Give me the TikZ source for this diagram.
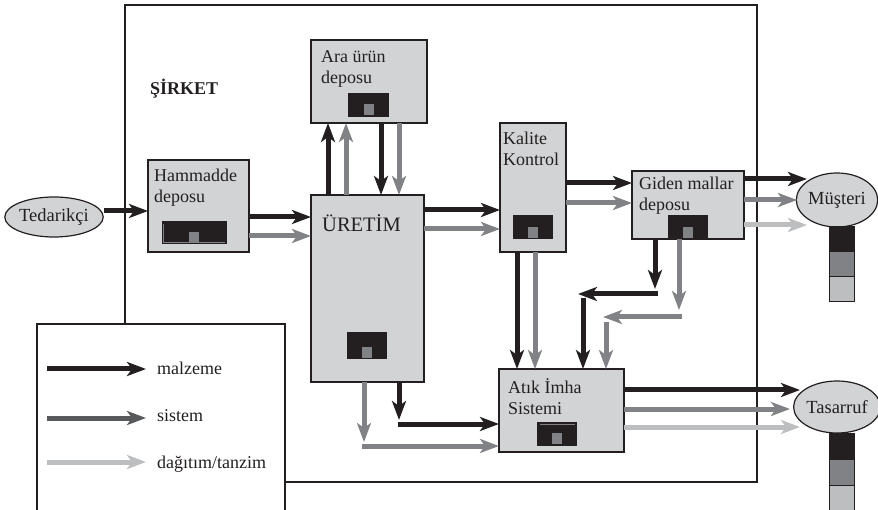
\documentclass[tikz,border=0pt]{standalone}
\usepackage{fontspec}
\setmainfont{Liberation Serif}
\usetikzlibrary{arrows.meta,shapes.geometric}
\definecolor{cblk}{HTML}{231F20}
\definecolor{cgry}{HTML}{808285}
\definecolor{cdgy}{HTML}{58595B}
\definecolor{clgy}{HTML}{BCBEC0}
\definecolor{cfill}{HTML}{D1D3D4}
\begin{document}
\begin{tikzpicture}[x=1pt,y=-1pt,
  box/.style={draw=cblk, line width=1.3pt, fill=cfill, anchor=north west, inner sep=0pt, outer sep=0pt},
  scr/.style={fill=cblk, anchor=north west, inner sep=0pt, outer sep=0pt},
  sq/.style={fill=cgry, anchor=north west, inner sep=0pt, outer sep=0pt, minimum width=10pt, minimum height=11pt},
  oval/.style={ellipse, draw=cblk, line width=1.2pt, fill=cfill, inner sep=0pt, font=\fontsize{18.5}{21}\selectfont, text=cblk},
  flow/.style={line width=5pt, -{Stealth[length=19pt,width=14pt,inset=5pt]}},
  fb/.style={flow, color=cblk},
  fg/.style={flow, color=cgry},
  fl/.style={flow, color=clgy},
  fd/.style={flow, color=cdgy},
  lab/.style={anchor=base west, inner sep=0pt, font=\fontsize{18}{21}\selectfont, text=cblk, align=left},
  frame/.style={draw=cblk, line width=1.1pt},
]
\useasboundingbox (0,0) rectangle (878,510);

% company frame and legend
\draw[frame] (125,324) -- (125,5) -- (757,5) -- (757,482) -- (285,482);
\draw[frame] (37,512) -- (37,324) -- (285,324) -- (285,512);
\node[lab, font=\bfseries\fontsize{18}{21}\selectfont] (sirket) at (150,95) {ŞİRKET};

% boxes
\node[box, minimum width=116pt, minimum height=83pt] (ara) at (311,40) {};
\node[box, minimum width=101pt, minimum height=92pt] (ham) at (148,160) {};
\node[box, minimum width=113pt, minimum height=187pt] (ure) at (311,195) {};
\node[box, minimum width=66pt, minimum height=129pt] (kal) at (500,123) {};
\node[box, minimum width=112pt, minimum height=68pt] (gid) at (632,171) {};
\node[box, minimum width=125pt, minimum height=83pt] (atk) at (499,369) {};

% box texts (base = baseline of last line)
\node[lab] (araT) at (321,84) {Ara ürün\\deposu};
\node[lab] (hamT) at (154,203) {Hammadde\\deposu};
\node[lab, font=\fontsize{20.5}{23}\selectfont] (ureT) at (322,232) {ÜRETİM};
\node[lab] (kalT) at (503,166) {Kalite\\Kontrol};
\node[lab] (gidT) at (639,211) {Giden mallar\\deposu};
\node[lab] (atkT) at (508,414) {Atık İmha\\Sistemi};

% displays
\node[scr, minimum width=65pt, minimum height=23pt] (hamS) at (162,221) {};
\draw[cgry, line width=0.7pt] (163.5,224) -- (163.5,242) -- (225,242);
\node[sq] (hamQ) at (189,232) {};
\node[scr, minimum width=41pt, minimum height=24pt] (araS) at (348,93) {};
\node[sq] (araQ) at (364,104) {};
\node[scr, minimum width=40pt, minimum height=27pt] (ureS) at (347,332) {};
\node[sq] (ureQ) at (362,347) {};
\node[scr, minimum width=40pt, minimum height=24pt] (kalS) at (513,215) {};
\node[sq] (kalQ) at (528,227) {};
\node[scr, minimum width=40pt, minimum height=24pt] (gidS) at (668,215) {};
\node[sq] (gidQ) at (683,227) {};
\node[scr, minimum width=40pt, minimum height=24pt] (atkS) at (537,422) {};
\draw[cgry, line width=0.7pt] (540,424.5) -- (575,424.5);
\node[sq] (atkQ) at (552,433) {};

% ovals
\node[oval, minimum width=93pt, minimum height=40pt] (ted) at (54,217) {Tedarikçi};
\node[oval, minimum width=80pt, minimum height=54pt] (mus) at (837,200) {Müşteri};
\node[oval, minimum width=81pt, minimum height=52pt] (tas) at (837,407) {Tasarruf};

% bars
\foreach \y/\c in {227/cblk,252/cgry,277/clgy}
  \filldraw[fill=\c, draw=cblk, line width=1pt] (829,\y) rectangle (854,\y+25);
\foreach \y/\c in {433/cblk,459/cgry,485/clgy}
  \filldraw[fill=\c, draw=cblk, line width=1pt] (829,\y) rectangle (854,\y+26);

% flows
\draw[fb] (ted.east |- 0,211) -- (ham.west |- 0,211);
\draw[fb] (ham.east |- 0,217) -- (ure.west |- 0,217);
\draw[fg] (ham.east |- 0,236) -- (ure.west |- 0,236);

\draw[fb] (ure.north -| 328,0) -- (ara.south -| 328,0);
\draw[fg] (ure.north -| 346,0) -- (ara.south -| 346,0);
\draw[fb] (ara.south -| 381,0) -- (ure.north -| 381,0);
\draw[fg] (ara.south -| 399,0) -- (ure.north -| 399,0);

\draw[fb] (ure.east |- 0,210) -- (kal.west |- 0,210);
\draw[fg] (ure.east |- 0,229) -- (kal.west |- 0,229);

\draw[fb] (kal.east |- 0,183) -- (gid.west |- 0,183);
\draw[fg] (kal.east |- 0,203) -- (gid.west |- 0,203);

\coordinate (m1) at (807,179);
\coordinate (m2) at (797,200);
\coordinate (m3) at (807,225);
\draw[fb] (gid.east |- m1) -- (m1);
\draw[fg] (gid.east |- m2) -- (m2);
\draw[fl] (gid.east |- m3) -- (m3);

\draw[fb] (kal.south -| 517,0) -- (atk.north -| 517,0);
\draw[fg] (kal.south -| 535,0) -- (atk.north -| 535,0);

% segmented returns from Giden mallar
\coordinate (k1) at (655,289);
\coordinate (k2a) at (658,294);
\coordinate (k2b) at (578,294);
\coordinate (k3) at (583,298);
\draw[fb] (gid.south -| k1) -- (k1);
\draw[fb] (k2a) -- (k2b);
\draw[fb] (k3) -- (atk.north -| k3);
\coordinate (g1) at (679,310);
\coordinate (g2a) at (682,317);
\coordinate (g2b) at (603,317);
\coordinate (g3) at (606,322);
\draw[fg] (gid.south -| g1) -- (g1);
\draw[fg] (g2a) -- (g2b);
\draw[fg] (g3) -- (atk.north -| g3);

% from production to waste system
\coordinate (u1) at (399,420);
\coordinate (u2) at (397.5,424);
\draw[fb] (ure.south -| u1) -- (u1);
\draw[fb] (u2) -- (atk.west |- u2);
\coordinate (v1) at (364,442);
\coordinate (v2) at (361.5,446);
\draw[fg] (ure.south -| v1) -- (v1);
\draw[fg] (v2) -- (atk.west |- v2);

% to Tasarruf
\coordinate (t1) at (800,390);
\coordinate (t2) at (790,409);
\coordinate (t3) at (800,427);
\draw[fb] (atk.east |- t1) -- (t1);
\draw[fg] (atk.east |- t2) -- (t2);
\draw[fl] (atk.east |- t3) -- (t3);

% legend
\node[lab] (lm) at (157,374) {malzeme};
\node[lab] (ls) at (157,421) {sistem};
\node[lab] (ld) at (157,468) {dağıtım/tanzim};
\coordinate (l1) at (47,369);
\coordinate (l2) at (47,418);
\coordinate (l3) at (47,462);
\draw[fb, shorten >=11pt] (l1) -- (l1 -| lm.west);
\draw[fd, shorten >=11pt] (l2) -- (l2 -| ls.west);
\draw[fl, shorten >=11pt] (l3) -- (l3 -| ld.west);
\end{tikzpicture}
\end{document}
